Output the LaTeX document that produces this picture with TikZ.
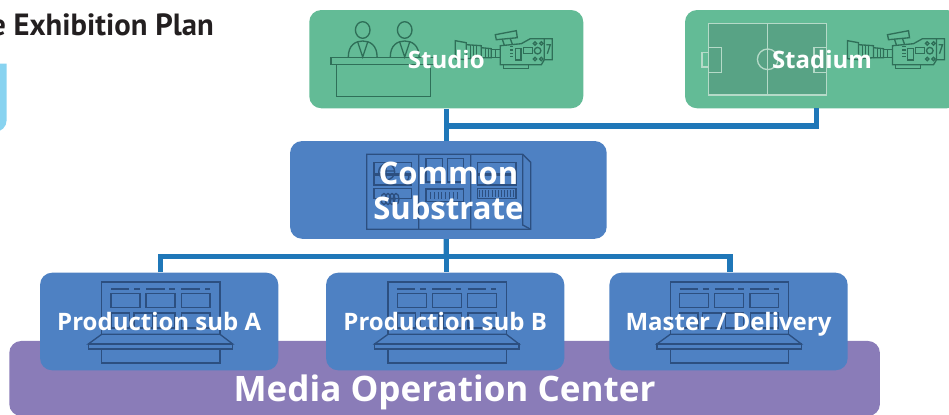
\documentclass[tikz,border=0pt]{standalone}
\usepackage{fontspec}
\setsansfont{Open Sans}
\newfontfamily\titlefont{PT Sans}
\definecolor{studiogreen}{HTML}{63BB96}
\definecolor{fieldgreen}{HTML}{58A385}
\definecolor{fieldline}{HTML}{B5DAC8}
\definecolor{greenline}{HTML}{2F6F58}
\definecolor{boxblue}{HTML}{4E81C3}
\definecolor{blueline}{HTML}{2C4F80}
\definecolor{mocpurple}{HTML}{8A7CB8}
\definecolor{linkblue}{HTML}{1F77B8}
\definecolor{skyblue}{HTML}{88D3F0}
\definecolor{titleblack}{HTML}{231F20}

\tikzstyle{block} = [rectangle, rounded corners=9pt, inner sep=0pt, draw=none]
\tikzstyle{greenblock} = [block, minimum width=205.5pt, minimum height=73.7pt, fill=studiogreen]
\tikzstyle{subblock} = [block, minimum width=178.7pt, minimum height=73.2pt, fill=boxblue]
\tikzstyle{topblock} = [block, minimum width=237.5pt, minimum height=73.3pt, fill=boxblue]
\tikzstyle{mocblock} = [block, minimum width=653pt, minimum height=56.3pt, fill=mocpurple]
\tikzstyle{link} = [draw=linkblue, line width=4pt]
\tikzstyle{boxtext} = [anchor=base, inner sep=0pt, text=white, font=\sffamily\bfseries\fontsize{18}{21}\selectfont]
\tikzstyle{icon} = [line width=1pt]

\tikzset{
  camera/.pic={
    \draw[icon] (0,0) -- (11,2) -- (11,19) -- (0,18) -- cycle;
    \draw[icon] (11,4) -- (26,5) -- (26,17) -- (11,18);
    \draw[icon] (26,7) -- (36,8) -- (36,17) -- (26,17);
    \draw[icon] (36,9) -- (45,9) -- (45,17) -- (36,17);
    \draw[icon] (15,4.5) -- (15,18) (18,4.5) -- (18,18) (21,5) -- (21,17) (30,7) -- (30,17) (33,8) -- (33,17) (40,9) -- (40,17);
    \draw[icon] (45,5) -- (66,3) -- (75,-2) -- (97,-2) -- (97,19) -- (89,19) -- (86,24) -- (45,24) -- cycle;
    \draw[icon] (48,24) -- (48,28) -- (73,28) -- (73,24);
    \draw[icon] (40,-6) -- (61,-10) -- (62,-3) -- (41,-1) -- cycle;
    \draw[icon] (47,-1.5) -- (49,4.5) (55,-2) -- (57,3.5);
    \draw[icon] (54.7,6) -- (58,6) (54.7,9.3) -- (58,9.3) (54.7,12.7) -- (58,12.7) (54.7,16) -- (58,16);
    \draw[icon] (60.3,7.7) rectangle (65.7,19.3);
    \draw[icon] (68,7) rectangle (77.3,12.7);
    \draw[icon] (82.3,10) circle (3.3);
    \draw[icon] (79.7,2.7) circle (1.7) (86,2.7) circle (1.7) (79.7,18.3) circle (1.7) (86,18.3) circle (1.7);
    \draw[icon] (89,-2) -- (89,19) (91,4) -- (95,4) -- (92,13);
  },
  anchorman/.pic={
    \draw[icon] (0,0) ellipse (7.3 and 8.3);
    \draw[icon] (-14.4,27) .. controls (-14.4,15) and (-7,11) .. (0,11) .. controls (7,11) and (14.4,15) .. (14.4,27);
    \draw[icon] (-5,12) -- (0,27) -- (5,12);
  },
  console/.pic={
    \draw[icon] (0,52) -- (0,0) -- (118.3,0) -- (118.3,52);
    \draw[icon] (9.3,7) -- (27.3,7) (32.3,7) -- (38.3,7) (44.3,7) -- (63.3,7) (67.7,7) -- (73.3,7) (79.6,7) -- (98.3,7) (103.3,7) -- (108.3,7);
    \draw[icon] (9.3,11.3) rectangle (38.3,25.7) (44.3,11.3) rectangle (73.3,25.7) (79.6,11.3) rectangle (108.3,25.7);
    \draw[icon] (9.3,31) rectangle (27.6,46) (32.3,31) rectangle (51,46) (55,31) rectangle (73.3,46) (80,31) rectangle (108.3,46);
    \draw[icon] (0,52.3) -- (118.3,52.3) -- (131,62) -- (-13.4,62) -- cycle;
    \draw[icon] (-13.4,62) rectangle (131,67);
    \draw[icon] (0,67) rectangle (118.3,81);
  }
}

\begin{document}
\begin{tikzpicture}[x=.75pt, y=-.75pt]
\useasboundingbox (0,0) rectangle (949,414);

%Title and left over panel
\node (plantitle) [anchor=base east, inner sep=0pt, text=titleblack, font=\titlefont\bfseries\fontsize{23}{26}\selectfont] at (214,35) {e Exhibition Plan};
\fill [skyblue,rounded corners=9pt] (-30,120) -- (-30,132) -- (6.7,132) -- (6.7,100) [sharp corners] -- (6.7,63.5) -- (-30,63.5) -- cycle;

%Custom blocks
\node (moc) [mocblock] at (444.6,378.5) {};
\node (suba) [subblock] at (159.2,321.5) {};
\node (subb) [subblock,right of=suba,node distance=214.5pt] {};
\node (submaster) [subblock,right of=subb,node distance=214.5pt,xshift=-2pt] {};
\node (common) [topblock,above of=subb,node distance=98.7pt,xshift=2.4pt] {};
\node (studio) [greenblock,above of=common,node distance=98.06pt,xshift=-1.6pt] {};
\node (stadium) [greenblock,right of=studio,node distance=281.8pt] {};

%Arrows
\coordinate (topbus) at (446.3,126);
\coordinate (lowbus) at (446.3,256.7);
\coordinate (stadiumdrop) at (816.3,108);
\draw [link] (studio.south) -- (studio.south |- common.north);
\draw [link] (stadiumdrop) |- (topbus);
\draw [link] (studio.south |- common.south) -- (lowbus);
\draw [link] ([xshift=1.1pt]suba.north) |- (lowbus);
\draw [link] (lowbus) -| ([xshift=1pt]submaster.north);
\draw [link] (lowbus) -- (subb.north -| lowbus);

%Studio icons
\pic[color=greenline] at (362.7,30) {anchorman};
\pic[color=greenline] at (404.7,30) {anchorman};
\draw [icon,greenline] (331,57.5) rectangle (436,64.5);
\draw [icon,greenline] (336.7,64.5) rectangle (430.7,96.5);
\pic[color=greenline] at (455.3,40.7) {camera};

%Stadium icons
\draw [icon,draw=fieldline,fill=fieldgreen] (708.7,23.3) rectangle (826.7,95);
\draw [icon,fieldline] (767.7,23.3) -- (767.7,95);
\draw [icon,fieldline] (767.7,59.3) circle (10.3);
\draw [icon,fieldline] (708.7,47.3) rectangle (721.3,72.3);
\draw [icon,fieldline] (702,52.3) rectangle (708.7,67);
\draw [icon,fieldline] (814,47.3) rectangle (826.7,72.3);
\pic[color=greenline] at (847.5,40.7) {camera};

%Common substrate icon
\draw [icon,blueline] (366.7,154.3) -- (522.7,154.3) -- (530.7,162.3) -- (530.7,229.3) -- (366.7,229.3) -- cycle;
\draw [icon,blueline] (418.7,154.3) -- (418.7,229.3) (470.7,154.3) -- (470.7,229.3) (522.7,154.3) -- (522.7,225) -- (530.7,229.3);
\draw [icon,blueline] (374,162.3) rectangle (411.7,174) (374,175.7) rectangle (411.7,185) (374,188.7) rectangle (411.7,198.3);
\draw [icon,blueline] (386.7,171.7) circle (8) (405,177) circle (4) (380,171) -- (395,171) (386,163) -- (386,180);
\draw [icon,blueline] (384,199) ellipse (3 and 5.5) (388,199) ellipse (3 and 5.5) (392,199) ellipse (3 and 5.5) (396,199) ellipse (3 and 5.5);
\draw [icon,blueline] (426,158.3) rectangle (442.3,182) (447.3,158.3) rectangle (463.7,182);
\draw [icon,blueline] (426,189) rectangle (463.7,201.7) (477.7,162.3) rectangle (516,173.3) (477.7,175) rectangle (516,185) (477.7,188.7) rectangle (516,198.3);
\draw [blueline,line width=5pt,dash pattern=on .75pt off 2.1pt] (430,195.3) -- (460,195.3);
\draw [blueline,line width=5.5pt,dash pattern=on .75pt off 1.6pt] (479,193.5) -- (515,193.5);

%Console icons
\pic[color=blueline] at (101.7,282) {console};
\pic[color=blueline] at (388,282) {console};
\pic[color=blueline] at (670.3,282) {console};

%Labels
\node (studiotext) [boxtext,yshift=-7pt] at (studio) {Studio};
\node (stadiumtext) [boxtext,yshift=-7pt] at (stadium) {Stadium};
\node (commontext) [anchor=center, inner sep=0pt, align=center, text=white, yshift=-.8pt, font=\sffamily\bfseries\fontsize{23.3}{26}\selectfont] at (common) {Common\\Substrate};
\node (subatext) [boxtext,yshift=-7pt] at (suba) {Production sub A};
\node (subbtext) [boxtext,yshift=-7pt] at (subb) {Production sub B};
\node (submastertext) [boxtext,yshift=-7pt] at (submaster) {Master / Delivery};
\node (moctext) [boxtext,yshift=-17.4pt,font=\sffamily\bfseries\fontsize{26.3}{29}\selectfont] at (moc) {Media Operation Center};
\end{tikzpicture}
\end{document}
